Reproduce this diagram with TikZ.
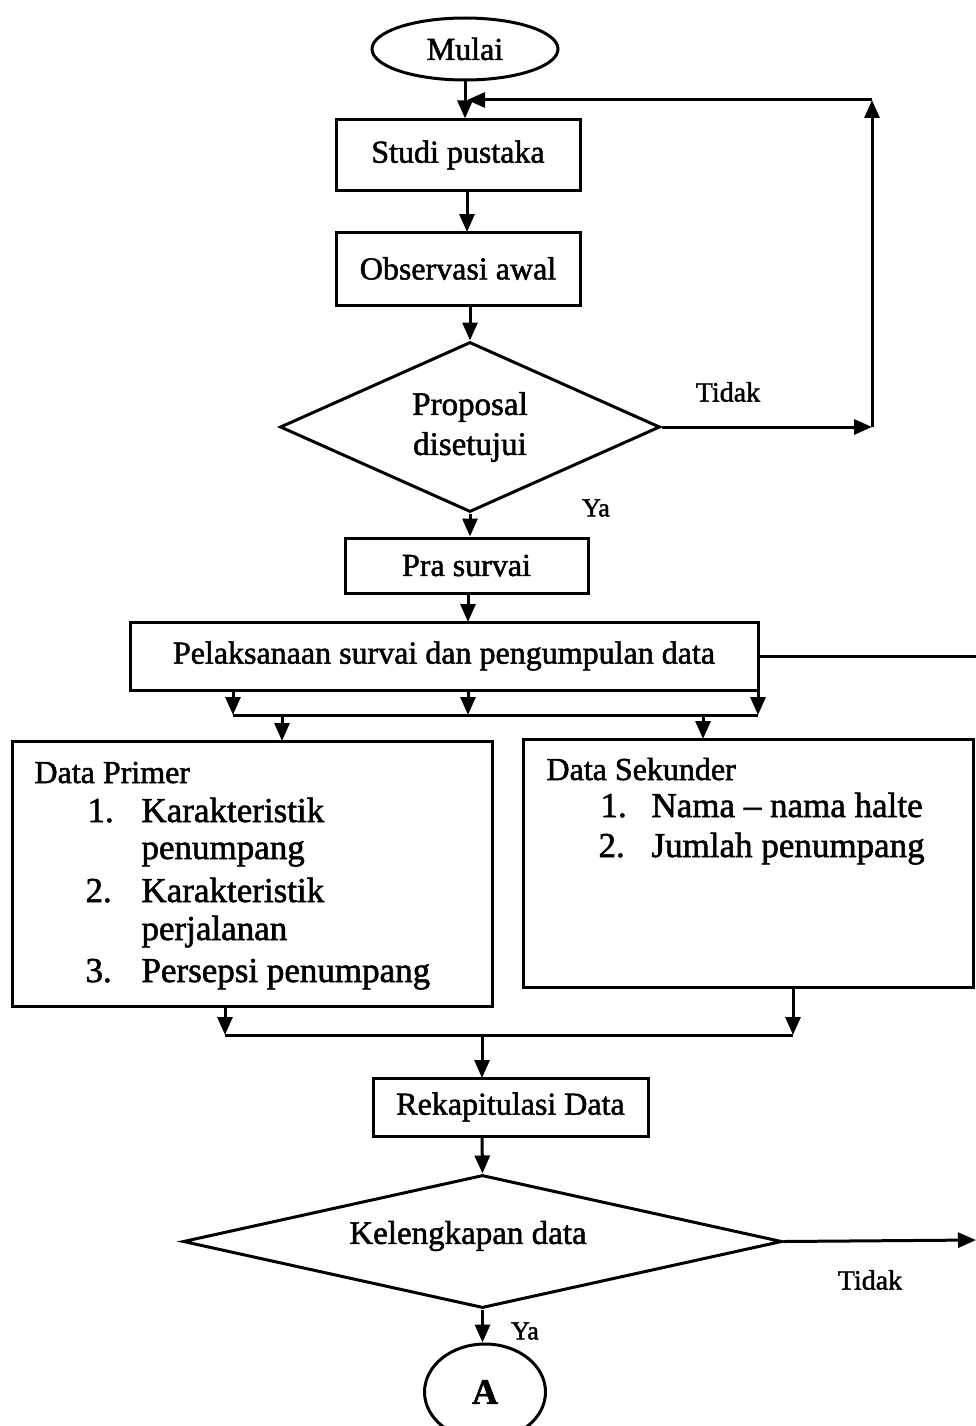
\documentclass[tikz,border=0pt]{standalone}
\usepackage{fontspec}
\setmainfont{Liberation Serif}[FakeBold=1.6]
\usetikzlibrary{shapes.geometric,arrows.meta}
\begin{document}
\begin{tikzpicture}[x=1pt,y=-1pt,line width=3pt,
  txt/.style={font=\fontsize{32}{38}\selectfont},
  box/.style={draw,rectangle,inner sep=0pt,txt},
  dia/.style={draw,diamond,inner sep=0pt,txt,align=center},
  arr/.style={-{Triangle[length=18pt,width=15pt]}},
  lbl/.style={inner sep=0pt,font=\fontsize{28}{32}\selectfont},
  item/.style={inner sep=0pt,anchor=base west,font=\fontsize{35}{40}\selectfont}]
\useasboundingbox (0,0) rectangle (976,1426);
\clip (0,0) rectangle (976,1426);

% nodes
\node[draw,ellipse,inner sep=0pt,minimum width=186pt,minimum height=62pt,txt] (mulai) at (465,49) {Mulai};
\node[box,minimum width=244pt,minimum height=70pt] (studi) at (458,155) {Studi pustaka};
\node[box,minimum width=244pt,minimum height=73pt] (obs) at (458,268.5) {Observasi awal};
\node[dia,shape aspect=2.235,minimum width=380pt,minimum height=170pt,font=\fontsize{33}{40}\selectfont] (prop) at (470,427) {Proposal\\disetujui};
\node[box,minimum width=243pt,minimum height=55pt] (pra) at (466.5,565.5) {Pra survai};
\node[box,minimum width=628pt,minimum height=68pt] (pel) at (444,656) {Pelaksanaan survai dan pengumpulan data};
\node[box,minimum width=480pt,minimum height=265pt] (dp) at (252,873.5) {};
\node[box,minimum width=450pt,minimum height=248pt] (ds) at (748,863) {};
\node[box,minimum width=275pt,minimum height=58pt] (rek) at (510.5,1107) {Rekapitulasi Data};
\node[dia,shape aspect=4.5,minimum width=599pt,minimum height=133pt] (kel) at (482.5,1241.5) {};
\node[inner sep=0pt,font=\fontsize{33}{40}\selectfont] (kelt) at (468,1236) {Kelengkapan data};
\node[draw,ellipse,inner sep=0pt,minimum width=121pt,minimum height=96pt,font=\fontsize{36}{40}\selectfont\bfseries] (A) at (485,1392) {A};

% texts inside data boxes
\node[item,font=\fontsize{32}{38}\selectfont] (dpt) at (33,783) {Data Primer};
\node[item] (dn1) at (86,822) {1.};
\node[item] (dt1) at (140,822) {Karakteristik};
\node[item] (dt1b) at (140,859) {penumpang};
\node[item] (dn2) at (84,902) {2.};
\node[item] (dt2) at (140,902) {Karakteristik};
\node[item] (dt2b) at (140,940) {perjalanan};
\node[item] (dn3) at (84,982) {3.};
\node[item] (dt3) at (140,982) {Persepsi penumpang};

\node[item,font=\fontsize{32}{38}\selectfont] (dst) at (545,780) {Data Sekunder};
\node[item] (sn1) at (599,817) {1.};
\node[item] (st1) at (650,817) {Nama -- nama halte};
\node[item] (sn2) at (597,857) {2.};
\node[item] (st2) at (650,857) {Jumlah penumpang};

% labels
\node[lbl] (tidak1) at (728,392) {Tidak};
\node[lbl,font=\fontsize{26}{30}\selectfont] (ya1) at (596,508) {Ya};
\node[lbl] (tidak2) at (870,1280) {Tidak};
\node[lbl,font=\fontsize{26}{30}\selectfont] (ya2) at (525,1331) {Ya};

% helper coordinates
\coordinate (c1) at (872,427);
\coordinate (c2) at (872,100);
\coordinate (c3) at (467,100);
\coordinate (pelR) at (976,656);
\coordinate (b1) at (233,715);
\coordinate (b2) at (758,715);
\coordinate (bl) at (225,1035);
\coordinate (br) at (793,1035);
\coordinate (kelR) at (976,1240);
\coordinate (o1) at (470,305);

% main flow
\draw[arr] (mulai.south) -- (mulai.south |- studi.north);
\draw[arr] (467,190) -- (467,232);
\draw[arr] (o1) -- (prop.north);
\draw[arr] (prop.east) -- (c1);
\draw[arr] (c1) -- (c2);
\draw[arr] (c2) -- (c3);
\draw[arr] (prop.south) -- (prop.south |- pra.north);
\draw[arr] (468,593) -- (468,622);
\draw (pel.east) -- (pelR);

% split bus
\draw[arr] (b1 |- pel.south) -- (b1);
\draw[arr] (468,690) -- (468,715);
\draw[arr] (b2 |- pel.south) -- (b2);
\draw (b1) -- (b2);
\draw[arr] (282,715) -- (282,741);
\draw[arr] (703,715) -- (703,739);

% merge bus
\draw[arr] (bl |- dp.south) -- (bl);
\draw[arr] (br |- ds.south) -- (br);
\draw (bl) -- (br);
\draw[arr] (482,1035) -- (482,1078);
\draw[arr] (482,1136) -- (kel.north);
\draw[arr] (kel.east) -- (kelR);
\draw[arr] (kel.south) -- (kel.south |- A.north);
\end{tikzpicture}
\end{document}
